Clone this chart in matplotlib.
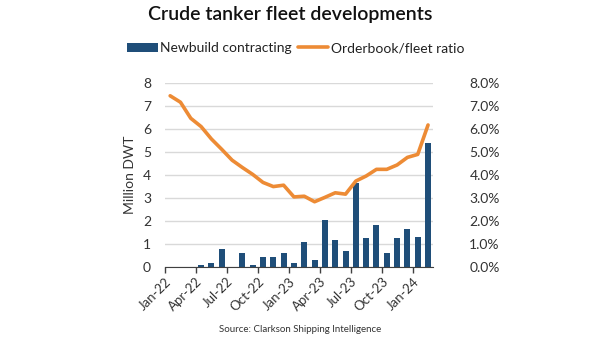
import numpy as np
import matplotlib.pyplot as plt
from matplotlib.ticker import FuncFormatter

plt.rcParams['font.family'] = ['Lato', 'DejaVu Sans']

months = ["Jan-22", "Feb-22", "Mar-22", "Apr-22", "May-22", "Jun-22", "Jul-22", "Aug-22",
          "Sep-22", "Oct-22", "Nov-22", "Dec-22", "Jan-23", "Feb-23", "Mar-23", "Apr-23",
          "May-23", "Jun-23", "Jul-23", "Aug-23", "Sep-23", "Oct-23", "Nov-23", "Dec-23",
          "Jan-24", "Feb-24"]
# newbuild contracting, million DWT
contracting = [0, 0, 0, 0.10, 0.17, 0.77, 0, 0.61, 0.10, 0.44, 0.44, 0.61, 0.17,
               1.10, 0.32, 2.04, 1.16, 0.71, 3.64, 1.27, 1.83, 0.61, 1.27, 1.66, 1.32, 5.41]
# orderbook as % of fleet
ratio = [7.45, 7.17, 6.47, 6.11, 5.57, 5.12, 4.65, 4.33, 4.03, 3.68, 3.50, 3.56, 3.05,
         3.08, 2.84, 3.03, 3.23, 3.17, 3.74, 3.96, 4.25, 4.25, 4.44, 4.77, 4.90, 6.18]

navy = "#1f4e79"
orange = "#ed8b35"

fig = plt.figure(figsize=(6, 3.38), dpi=100)
ax = fig.add_axes([0.275, 0.21, 0.447, 0.544])
ax2 = ax.twinx()

x = np.arange(len(months))
b = ax.bar(x, contracting, width=0.58, color=navy, zorder=2, label="Newbuild contracting")
l, = ax2.plot(x, ratio, color=orange, lw=2.6, zorder=3, solid_capstyle="round",
              label="Orderbook/fleet ratio")

ax.set_xlim(-0.5, len(months) - 0.5)
ax.set_ylim(0, 8)
ax2.set_ylim(0, 8)
ax.set_yticks(range(0, 9))
ax2.set_yticks(range(0, 9))
ax2.yaxis.set_major_formatter(FuncFormatter(lambda v, p: f"{v:.1f}%"))
ax.grid(axis="y", color="#d9d9d9", lw=1, zorder=0)
ax.set_axisbelow(True)

ticks = x[::3]
ax.set_xticks(ticks - 0.5)
ax.set_xticklabels([months[i] for i in ticks], rotation=45, ha="right",
                   rotation_mode="anchor", fontsize=9.5, color="#333333")
ax.tick_params(axis="x", length=4, width=1, color="#404040", pad=2)
ax.tick_params(axis="y", length=0, labelsize=10, pad=10, labelcolor="#333333")
ax2.tick_params(axis="y", length=0, labelsize=10, pad=26, labelcolor="#333333")

for a in (ax, ax2):
    for s in ("top", "left", "right"):
        a.spines[s].set_visible(False)
ax.spines["bottom"].set_color("#404040")
ax2.spines["bottom"].set_visible(False)

ax.set_ylabel("Million DWT", fontsize=10, color="#333333", labelpad=5)

fig.text(0.483, 0.957, "Crude tanker fleet developments", ha="center", va="center",
         fontsize=14, fontweight="semibold", color="#111111")
fig.legend([b, l], ["Newbuild contracting", "Orderbook/fleet ratio"], loc="center",
           bbox_to_anchor=(0.493, 0.857), ncol=2, frameon=False, fontsize=10,
           handlelength=2.2, handletextpad=0.2, columnspacing=0.4, labelcolor="#222222")
fig.text(0.5, 0.025, "Source: Clarkson Shipping Intelligence", ha="center", va="center",
         fontsize=7, color="#333333")

fig.savefig("out.png", dpi=100)
